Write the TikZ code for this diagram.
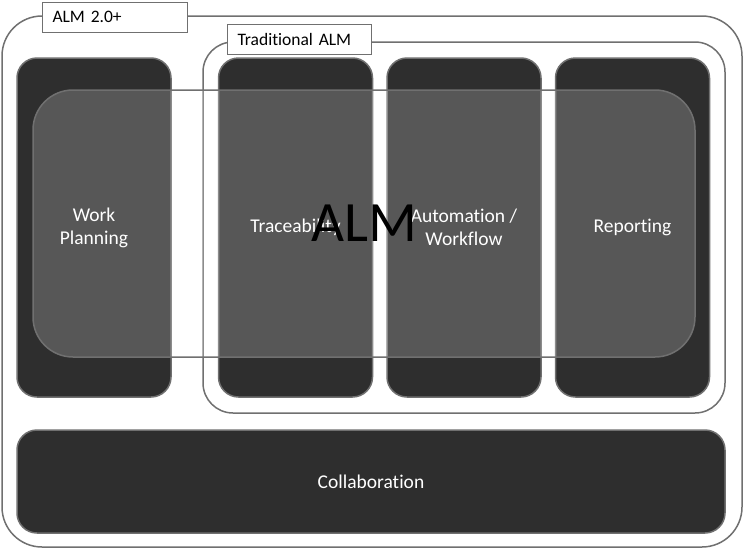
\documentclass[tikz,border=0pt]{standalone}
\usepackage{fontspec}
\setmainfont{Carlito}[Ligatures=NoCommon]
\definecolor{edge}{HTML}{707070}
\definecolor{dark}{HTML}{2E2E2E}
\usetikzlibrary{positioning}

\begin{document}
\begin{tikzpicture}[
            x=1pt, y=-1pt,
            frame/.style={draw=edge, fill=white, line width=1.5pt, inner sep=0pt},
            tag/.style={draw=edge, fill=white, line width=1pt, inner xsep=10pt,
                        inner ysep=0pt, minimum height=30pt, text width=125pt,
                        align=left, font=\fontsize{17.5}{20}\selectfont},
            col/.style={draw=edge, fill=dark, line width=1.5pt, rounded corners=20pt,
                        minimum width=154pt, minimum height=339pt, inner sep=0pt,
                        text=white, align=center, font=\fontsize{19.5}{23}\selectfont},
            overlay/.style={draw=edge, fill=white, fill opacity=0.2, text opacity=1,
                        line width=1.5pt, rounded corners=40pt, inner sep=0pt,
                        minimum width=662pt, minimum height=267pt,
                        font=\fontsize{57}{60}\selectfont}
          ]
          \useasboundingbox (0,0) rectangle (744,549);
          \node[frame, rounded corners=40pt, minimum width=740pt, minimum height=531pt] (alm2) at (372,281.5) {};
          \node[tag] (alm2tag) at (115,17) {ALM 2.0+};
          \node[frame, rounded corners=30pt, minimum width=522pt, minimum height=371pt] (trad) at (464,227.5) {};
          \node[tag, text width=124pt] (tradtag) at (299.5,39) {Traditional ALM};
          \node[col] (plan) at (94,227.5) {Work\\Planning};
          \node[col] (trace) at (295.5,227.5) {Traceability};
          \node[col] (auto) at (464,227.5) {Automation /\\Workflow};
          \node[col] (report) at (632.5,227.5) {Reporting};
          \node[col, minimum width=708pt, minimum height=103pt] (collab) at (371,481.5) {Collaboration};
          \node[overlay] (alm) at (364,223.5) {ALM};
\end{tikzpicture}
\end{document}
